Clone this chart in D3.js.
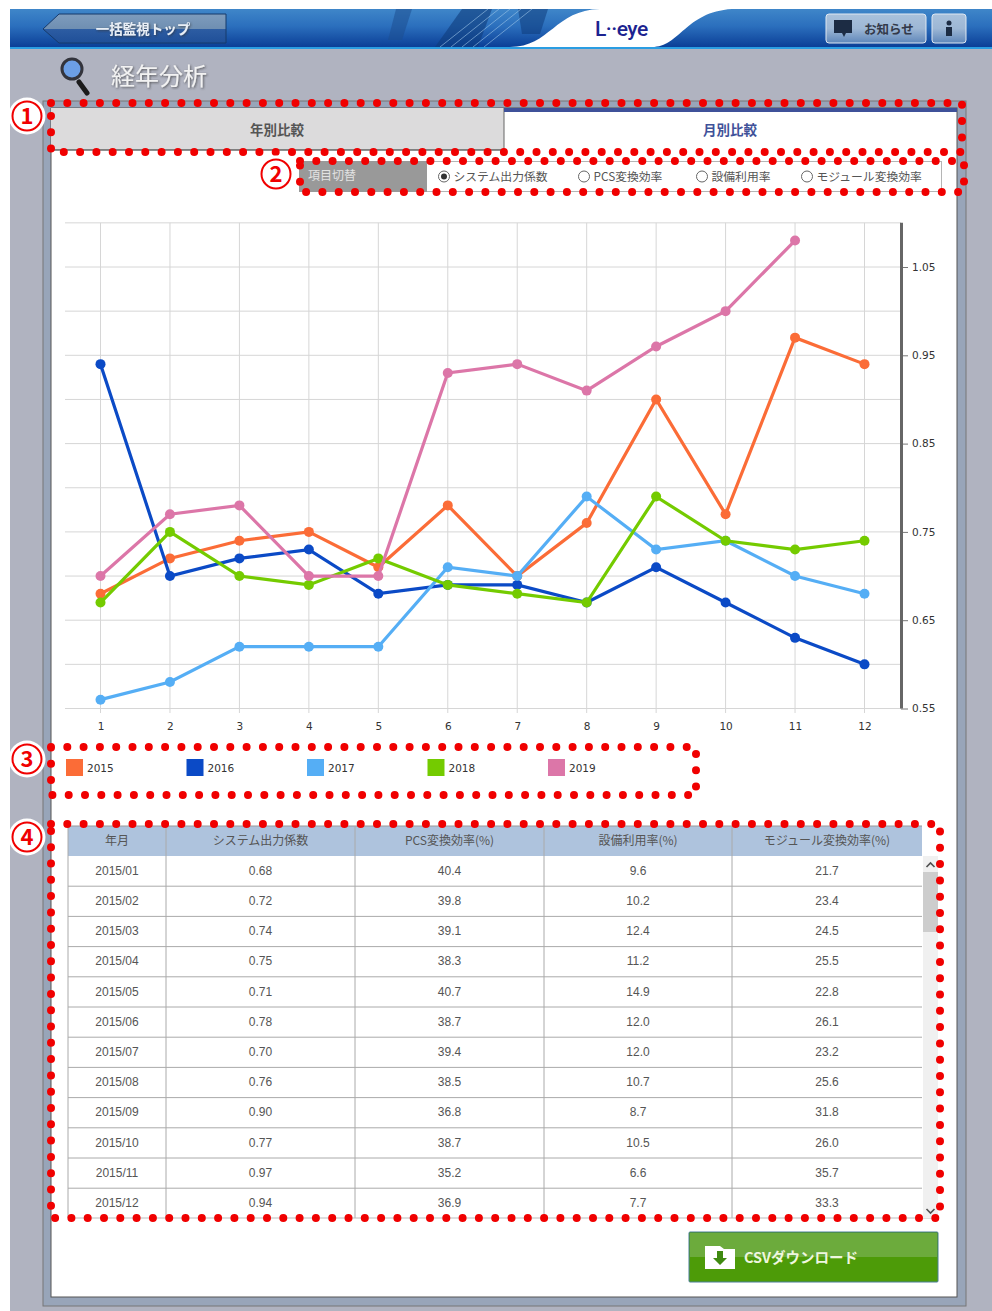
<!DOCTYPE html>
<html>
<head>
<meta charset="utf-8">
<script src="https://cdn.jsdelivr.net/npm/d3@7"></script>
<style>
  html, body { margin: 0; padding: 0; background: #fff; }
  text { font-family: "Noto Sans CJK JP", "Noto Sans", sans-serif; }
  .tick text { font-family: "DejaVu Sans", sans-serif; }
</style>
</head>
<body>
<div id="root"></div>
<script>
const months = [1, 2, 3, 4, 5, 6, 7, 8, 9, 10, 11, 12];
const yTicks = [0.55, 0.65, 0.75, 0.85, 0.95, 1.05];
const yGrid = [0.55, 0.6, 0.65, 0.7, 0.75, 0.8, 0.85, 0.9, 0.95, 1, 1.05, 1.1];
const years = ["2015", "2016", "2017", "2018", "2019"];
const colors = ["#fb6c37", "#0b4ac6", "#55aef5", "#74cb00", "#dc76a8"];

const values2015 = [0.68, 0.72, 0.74, 0.75, 0.71, 0.78, 0.7, 0.76, 0.9, 0.77, 0.97, 0.94];
const values2016 = [0.94, 0.7, 0.72, 0.73, 0.68, 0.69, 0.69, 0.67, 0.71, 0.67, 0.63, 0.6];
const values2017 = [0.56, 0.58, 0.62, 0.62, 0.62, 0.71, 0.7, 0.79, 0.73, 0.74, 0.7, 0.68];
const values2018 = [0.67, 0.75, 0.7, 0.69, 0.72, 0.69, 0.68, 0.67, 0.79, 0.74, 0.73, 0.74];
const values2019 = [0.7, 0.77, 0.78, 0.7, 0.7, 0.93, 0.94, 0.91, 0.96, 1, 1.08];
const allValues = [values2015, values2016, values2017, values2018, values2019];

const tableHead = ["年月", "システム出力係数", "PCS変換効率(%)", "設備利用率(%)", "モジュール変換効率(%)"];
const tableMonths = ["2015/01", "2015/02", "2015/03", "2015/04", "2015/05", "2015/06", "2015/07", "2015/08", "2015/09", "2015/10", "2015/11", "2015/12"];
const tableOutput = ["0.68", "0.72", "0.74", "0.75", "0.71", "0.78", "0.70", "0.76", "0.90", "0.77", "0.97", "0.94"];
const tablePcs = ["40.4", "39.8", "39.1", "38.3", "40.7", "38.7", "39.4", "38.5", "36.8", "38.7", "35.2", "36.9"];
const tableUse = ["9.6", "10.2", "12.4", "11.2", "14.9", "12.0", "12.0", "10.7", "8.7", "10.5", "6.6", "7.7"];
const tableModule = ["21.7", "23.4", "24.5", "25.5", "22.8", "26.1", "23.2", "25.6", "31.8", "26.0", "35.7", "33.3"];
const radioLabels = ["システム出力係数", "PCS変換効率", "設備利用率", "モジュール変換効率"];

const width = 992;
const height = 1311;

const svg = d3
  .select("#root")
  .append("svg")
  .attr("width", width)
  .attr("height", height)
  .attr("viewBox", `0 0 ${width} ${height}`)
  .style("display", "block");

const defs = svg.append("defs");

function gradient(id, stops) {
  const g = defs
    .append("linearGradient")
    .attr("id", id)
    .attr("x1", 0)
    .attr("x2", 0)
    .attr("y1", 0)
    .attr("y2", 1);
  stops.forEach((s) => g.append("stop").attr("offset", s[0]).attr("stop-color", s[1]));
}
gradient("headerFill", [[0, "#3f86c9"], [0.45, "#2b6fbd"], [1, "#0b3f97"]]);
gradient("backFill", [[0, "#7e9cbd"], [0.5, "#6f8fb2"], [0.51, "#2d5da3"], [1, "#1f4f98"]]);
gradient("noticeFill", [[0, "#a9c1dc"], [0.5, "#9db7d5"], [1, "#5f87ba"]]);
defs
  .append("filter")
  .attr("id", "shadow")
  .append("feDropShadow")
  .attr("dx", 1)
  .attr("dy", 1)
  .attr("stdDeviation", 1.2)
  .attr("flood-color", "#333")
  .attr("flood-opacity", 0.7);

drawPage();
drawHeader();
drawTabs();
drawChart();
drawLegend();
drawTable();
drawButton();
drawCallouts();

function drawPage() {
  svg.append("rect").attr("x", 10).attr("y", 9).attr("width", 982).attr("height", 1302).attr("fill", "#b0b3c0");
  svg.append("rect").attr("x", 43).attr("y", 101).attr("width", 923).attr("height", 1205).attr("fill", "#98a5b9").attr("stroke", "#777");
  svg.append("rect").attr("x", 51).attr("y", 108).attr("width", 906).attr("height", 1189).attr("fill", "#fff").attr("stroke", "#555");
}

function drawHeader() {
  svg.append("rect").attr("x", 10).attr("y", 9).attr("width", 982).attr("height", 38).attr("fill", "url(#headerFill)");
  svg.append("rect").attr("x", 10).attr("y", 47).attr("width", 982).attr("height", 2).attr("fill", "#2a9de2");

  // 背景の模様
  svg.append("path").attr("d", "M388 40L396 9L412 9L402 40Z").attr("fill", "#1d4f8f").attr("opacity", 0.55);
  svg.append("path").attr("d", "M435 47L462 9L492 9L478 47Z").attr("fill", "#0f3c7c").attr("opacity", 0.6);
  svg.append("path").attr("d", "M522 34L518 9L548 9L540 34Z").attr("fill", "#0f3c7c").attr("opacity", 0.55);
  const deco = svg.append("g").attr("stroke", "#9cc4e8").attr("stroke-opacity", 0.6).attr("fill", "none");
  d3.range(0, 5).forEach((i) => {
    deco.append("line").attr("x1", 440 + i * 11).attr("y1", 47).attr("x2", 488 + i * 11).attr("y2", 9);
  });

  // ロゴの白い波
  svg
    .append("path")
    .attr("d", "M510 47C550 47 555 10 600 9L732 9C685 12 680 47 652 47Z")
    .attr("fill", "#fff");
  svg
    .append("text")
    .text("L··eye")
    .attr("x", 595)
    .attr("y", 36)
    .attr("fill", "#1c2390")
    .style("font-family", "Roboto, sans-serif")
    .style("font-weight", 500)
    .style("font-size", "21px")
    .style("letter-spacing", "-0.5px");

  // 戻るボタン
  svg
    .append("path")
    .attr("d", "M43 29L59 14L226 14L226 43L59 43Z")
    .attr("fill", "url(#backFill)")
    .attr("stroke", "#163a6b");
  svg
    .append("text")
    .text("一括監視トップ")
    .attr("x", 143)
    .attr("y", 34)
    .attr("text-anchor", "middle")
    .attr("fill", "#e8eef5")
    .style("font-size", "13.5px")
    .style("font-weight", 700)
    .attr("filter", "url(#shadow)");

  // お知らせ
  svg.append("rect").attr("x", 826).attr("y", 14).attr("width", 100).attr("height", 29).attr("rx", 3).attr("fill", "url(#noticeFill)").attr("stroke", "#dfe8f2");
  svg.append("path").attr("d", "M834 20H852V33H846L844 37L842 33H834Z").attr("fill", "#1c2c44");
  svg
    .append("text")
    .text("お知らせ")
    .attr("x", 889)
    .attr("y", 33.5)
    .attr("text-anchor", "middle")
    .attr("fill", "#33394a")
    .style("font-size", "12.5px")
    .style("font-weight", 700);
  svg.append("rect").attr("x", 932).attr("y", 14).attr("width", 34).attr("height", 29).attr("rx", 3).attr("fill", "url(#noticeFill)").attr("stroke", "#dfe8f2");
  svg.append("circle").attr("cx", 949).attr("cy", 23).attr("r", 2.5).attr("fill", "#1c2c44");
  svg.append("rect").attr("x", 946).attr("y", 27).attr("width", 6).attr("height", 9).attr("fill", "#1c2c44");

  // 虫眼鏡とタイトル
  svg.append("line").attr("x1", 79).attr("y1", 82).attr("x2", 87).attr("y2", 93).attr("stroke", "#1b1b1b").attr("stroke-width", 5).attr("stroke-linecap", "round");
  svg.append("circle").attr("cx", 72).attr("cy", 69).attr("r", 10).attr("fill", "#6c9fe6").attr("stroke", "#33343c").attr("stroke-width", 3);
  svg
    .append("text")
    .text("経年分析")
    .attr("x", 111)
    .attr("y", 84.5)
    .attr("fill", "#f2f2f2")
    .style("font-size", "24px")
    .style("font-weight", 400)
    .attr("filter", "url(#shadow)");
}

function drawTabs() {
  svg.append("rect").attr("x", 51).attr("y", 108).attr("width", 453).attr("height", 42).attr("fill", "#dcdbdc");
  svg.append("line").attr("x1", 51).attr("x2", 504).attr("y1", 150).attr("y2", 150).attr("stroke", "#222");
  svg.append("line").attr("x1", 504).attr("x2", 504).attr("y1", 108).attr("y2", 150).attr("stroke", "#666");
  svg.append("rect").attr("x", 504).attr("y", 108).attr("width", 453).attr("height", 4).attr("fill", "#3f5199");
  svg.append("text").text("年別比較").attr("x", 277).attr("y", 135).attr("text-anchor", "middle").attr("fill", "#555").style("font-size", "13.5px").style("font-weight", 700);
  svg.append("text").text("月別比較").attr("x", 730).attr("y", 135).attr("text-anchor", "middle").attr("fill", "#3f5199").style("font-size", "13.5px").style("font-weight", 700);

  // 項目切替
  svg.append("rect").attr("x", 299.5).attr("y", 161.5).attr("width", 642).attr("height", 30).attr("fill", "#fff").attr("stroke", "#b5b5b5");
  svg.append("rect").attr("x", 299).attr("y", 161).attr("width", 128).attr("height", 31).attr("fill", "#999");
  svg.append("text").text("項目切替").attr("x", 308).attr("y", 180).attr("fill", "#e2e2e2").style("font-size", "12px");

  const radioX = [444, 584, 702, 807];
  radioLabels.forEach((label, i) => {
    svg.append("circle").attr("cx", radioX[i]).attr("cy", 176.5).attr("r", 5.5).attr("fill", "#fff").attr("stroke", "#666");
    if (i === 0) svg.append("circle").attr("cx", radioX[i]).attr("cy", 176.5).attr("r", 3).attr("fill", "#333");
    svg.append("text").text(label).attr("x", radioX[i] + 9.5).attr("y", 181).attr("fill", "#555").style("font-size", "11.8px");
  });
}

function drawChart() {
  const xScale = d3.scaleLinear().domain([1, 12]).range([100.5, 864.5]);
  const yScale = d3.scaleLinear().domain([0.55, 1.05]).range([708.5, 267]);

  const grid = svg.append("g").attr("stroke", "#d6d6d6").attr("fill", "none");
  yGrid.forEach((v) => {
    grid.append("line").attr("x1", 65).attr("x2", 901).attr("y1", yScale(v)).attr("y2", yScale(v));
  });
  months.forEach((m) => {
    grid.append("line").attr("x1", xScale(m)).attr("x2", xScale(m)).attr("y1", yScale(1.1)).attr("y2", 713);
  });

  const bottomAxis = d3.axisBottom(xScale).tickValues(months).tickFormat(d3.format("d")).tickSize(0).tickPadding(15);
  const xAxis = svg.append("g").attr("transform", "translate(0, 708)").call(bottomAxis);
  xAxis.select(".domain").remove();
  xAxis.selectAll("text").attr("fill", "#333").style("font-size", "10.5px");

  const rightAxis = d3.axisRight(yScale).tickValues(yTicks).tickFormat(d3.format(".2f")).tickSize(7).tickPadding(4);
  const yAxis = svg.append("g").attr("transform", "translate(901, 0)").call(rightAxis);
  yAxis.select(".domain").remove();
  yAxis.selectAll("line").attr("stroke", "#777");
  yAxis.selectAll("text").attr("fill", "#333").style("font-size", "10.5px");
  svg.append("line").attr("x1", 901.5).attr("x2", 901.5).attr("y1", yScale(1.1)).attr("y2", 708.5).attr("stroke", "#666").attr("stroke-width", 3);

  const line = d3
    .line()
    .x((d, i) => xScale(months[i]))
    .y((d) => yScale(d));

  allValues.forEach((series, s) => {
    const g = svg.append("g");
    g.append("path").attr("d", line(series)).attr("fill", "none").attr("stroke", colors[s]).attr("stroke-width", 3.2);
    g.selectAll("circle")
      .data(series)
      .join("circle")
      .attr("cx", (d, i) => xScale(months[i]))
      .attr("cy", (d) => yScale(d))
      .attr("r", 5)
      .attr("fill", colors[s]);
  });
}

function drawLegend() {
  const legendScale = d3.scalePoint().domain(years).range([66, 548]);
  const items = svg
    .selectAll(".legend-item")
    .data(years)
    .join("g")
    .attr("class", "legend-item")
    .attr("transform", (d) => `translate(${legendScale(d)}, 759)`);
  items.append("rect").attr("width", 17).attr("height", 17).attr("fill", (d, i) => colors[i]);
  items
    .append("text")
    .text((d) => d)
    .attr("x", 21)
    .attr("y", 13)
    .attr("fill", "#333")
    .style("font-family", '"DejaVu Sans", sans-serif')
    .style("font-size", "10.5px");
}

function drawTable() {
  const colEdges = [68, 166, 355, 544, 732, 922];
  const columns = [tableMonths, tableOutput, tablePcs, tableUse, tableModule];
  const rowH = 30.2;
  const top = 856;
  const bottom = 1218;
  const colCenter = (c) => (colEdges[c] + colEdges[c + 1]) / 2;

  svg.append("rect").attr("x", 68).attr("y", 826).attr("width", 854).attr("height", 30).attr("fill", "#aec3dd");
  svg.append("line").attr("x1", 68).attr("x2", 922).attr("y1", 826).attr("y2", 826).attr("stroke", "#999");

  tableHead.forEach((h, c) => {
    svg.append("text").text(h).attr("x", colCenter(c)).attr("y", 845).attr("text-anchor", "middle").attr("fill", "#555").style("font-size", "12px");
  });

  tableMonths.forEach((m, r) => {
    const y = top + rowH * (r + 1);
    if (y < bottom - 1) {
      svg.append("line").attr("x1", 68).attr("x2", 922).attr("y1", y).attr("y2", y).attr("stroke", "#aaa");
    }
    columns.forEach((col, c) => {
      svg
        .append("text")
        .text(col[r])
        .attr("x", colCenter(c))
        .attr("y", top + rowH * r + 18.8)
        .attr("text-anchor", "middle")
        .attr("fill", "#555")
        .style("font-family", '"Liberation Sans", sans-serif')
        .style("font-size", "12px");
    });
  });

  colEdges.slice(0, 5).forEach((x) => {
    svg.append("line").attr("x1", x).attr("x2", x).attr("y1", 826).attr("y2", bottom).attr("stroke", "#aaa");
  });
  svg.append("line").attr("x1", 68).attr("x2", 938).attr("y1", bottom).attr("y2", bottom).attr("stroke", "#bbb");

  // スクロールバー
  svg.append("rect").attr("x", 923).attr("y", 856).attr("width", 15).attr("height", 362).attr("fill", "#f0f0f0");
  svg.append("rect").attr("x", 923).attr("y", 872).attr("width", 15).attr("height", 60).attr("fill", "#cdcdcd");
  svg.append("path").attr("d", "M926.5 867L930.5 863L934.5 867").attr("fill", "none").attr("stroke", "#505050").attr("stroke-width", 1.6);
  svg.append("path").attr("d", "M926.5 1209L930.5 1213L934.5 1209").attr("fill", "none").attr("stroke", "#505050").attr("stroke-width", 1.6);
}

function drawButton() {
  svg.append("rect").attr("x", 689).attr("y", 1232).attr("width", 249).attr("height", 50).attr("rx", 1).attr("fill", "#4d9b08").attr("stroke", "#4b7f98");
  svg.append("rect").attr("x", 690).attr("y", 1233).attr("width", 247).attr("height", 24).attr("fill", "#6cab3c");
  svg.append("path").attr("d", "M705 1246H720L724 1249H735V1269H705Z").attr("fill", "#fff");
  svg.append("path").attr("d", "M717 1251H723V1258H727L720 1265L713 1258H717Z").attr("fill", "#3f8a10");
  svg.append("text").text("CSVダウンロード").attr("x", 744).attr("y", 1263).attr("fill", "#eef6df").style("font-size", "14.5px").style("font-weight", 700);
}

function drawCallouts() {
  const boxes = [
    [51, 103, 911, 49],
    [300, 161, 664, 31],
    [51, 747, 645, 48],
    [51, 824, 889, 394],
  ];
  boxes.forEach((b) => {
    svg
      .append("rect")
      .attr("x", b[0])
      .attr("y", b[1])
      .attr("width", b[2])
      .attr("height", b[3])
      .attr("fill", "none")
      .attr("stroke", "#f00000")
      .attr("stroke-width", 8)
      .attr("stroke-linecap", "round")
      .attr("stroke-dasharray", "0 16.3");
  });

  const marks = [
    ["1", 27, 116],
    ["2", 276, 174],
    ["3", 27, 759],
    ["4", 27, 837],
  ];
  marks.forEach((m) => {
    svg.append("circle").attr("cx", m[1]).attr("cy", m[2]).attr("r", 18.5).attr("fill", "#fff");
    svg.append("circle").attr("cx", m[1]).attr("cy", m[2]).attr("r", 14.5).attr("fill", "none").attr("stroke", "#f00000").attr("stroke-width", 2);
    svg
      .append("text")
      .text(m[0])
      .attr("x", m[1])
      .attr("y", m[2] + 8)
      .attr("text-anchor", "middle")
      .attr("fill", "#f00000")
      .style("font-size", "22px")
      .style("font-weight", 700);
  });
}
</script>
</body>
</html>
